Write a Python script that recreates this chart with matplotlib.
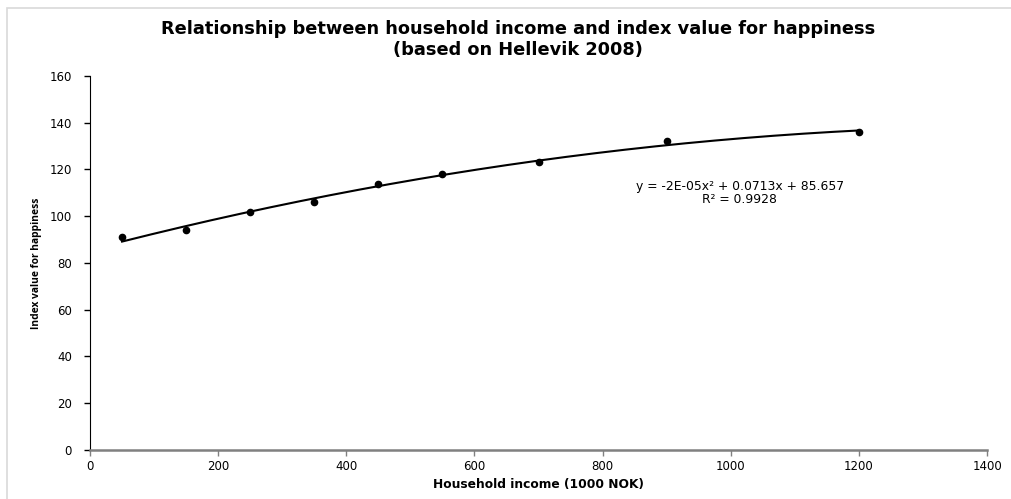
import matplotlib.pyplot as plt
import numpy as np
from matplotlib.patches import Rectangle

# household income (1000 NOK) and happiness index
income = [50, 150, 250, 350, 450, 550, 700, 900, 1200]
happiness = [91, 94, 102, 106, 114, 118, 123, 132, 136]

x_ticks = [0, 200, 400, 600, 800, 1000, 1200, 1400]
y_ticks = [0, 20, 40, 60, 80, 100, 120, 140, 160]

title = "Relationship between household income and index value for happiness\n(based on Hellevik 2008)"
equation = "y = -2E-05x² + 0.0713x + 85.657\nR² = 0.9928"

fig = plt.figure(figsize=(10.12, 4.99), dpi=100)
fig.patches.append(Rectangle((0.007, -0.01), 1.0, 0.994, transform=fig.transFigure,
                             fill=False, edgecolor="#d9d9d9", linewidth=1.2))
ax = fig.add_axes([0.0889, 0.0982, 0.8865, 0.7495])

# quadratic trendline, as Excel draws it
coef = np.polyfit(income, happiness, 2)
xs = np.linspace(min(income), max(income), 200)
ax.plot(xs, np.polyval(coef, xs), color="black", linewidth=1.5, zorder=2)
ax.plot(income, happiness, "o", color="black", markersize=4.5, zorder=3)

ax.set_xlim(0, 1400)
ax.set_ylim(0, 160)
ax.set_xticks(x_ticks)
ax.set_yticks(y_ticks)
ax.tick_params(axis="both", direction="out", length=4, width=1, labelsize=8.5)
ax.tick_params(axis="x", colors="#808080", labelcolor="black", pad=3)
ax.tick_params(axis="y", pad=9)

ax.spines["top"].set_visible(False)
ax.spines["right"].set_visible(False)
ax.spines["left"].set_color("black")
ax.spines["bottom"].set_color("#808080")
ax.spines["bottom"].set_linewidth(1.8)

ax.set_xlabel("Household income (1000 NOK)", fontsize=8.8, fontweight="bold", labelpad=4)
ax.set_ylabel("Index value for happiness", fontsize=7.4, fontweight="bold",
              family=["Open Sans", "DejaVu Sans"])
ax.yaxis.set_label_coords(-0.053, 0.5)

fig.text(0.512, 0.921, title, ha="center", va="center", fontsize=12.8,
         fontweight="bold", family="DejaVu Sans", linespacing=1.22)
fig.text(0.731, 0.613, equation, ha="center", va="center",
         fontsize=8.9, family="DejaVu Sans", linespacing=1.05)

fig.savefig("out.png", dpi=100)
